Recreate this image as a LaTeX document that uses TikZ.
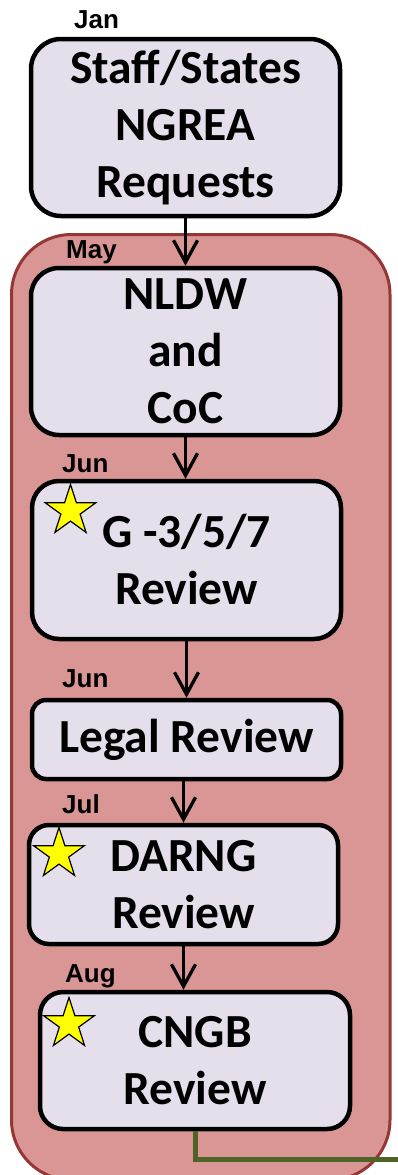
\documentclass[tikz,border=0pt]{standalone}
\usepackage{fontspec}
\setmainfont{Carlito}
\newfontfamily\lblfont{Liberation Sans}
\usetikzlibrary{arrows.meta,shapes.geometric}
\definecolor{boxfill}{HTML}{E5DFEC}
\definecolor{panelfill}{HTML}{D99694}
\definecolor{paneldraw}{HTML}{953735}
\definecolor{olivegreen}{HTML}{4F6228}
\definecolor{staryellow}{HTML}{FFFF00}
\begin{document}
\begin{tikzpicture}[x=1pt,y=-1pt,
  procbox/.style={draw=black, line width=4.5pt, fill=boxfill, align=center, inner sep=0pt,
    font=\fontsize{47.5}{57}\selectfont\bfseries, minimum width=309pt},
  month/.style={anchor=base west, inner sep=0pt, font=\lblfont\bfseries\fontsize{26}{30}\selectfont},
  flow/.style={line width=3.3pt, -{Straight Barb[length=22pt,width=24pt]}},
  starmark/.style={star, star points=5, star point ratio=2.618, minimum size=53pt, inner sep=0pt,
    fill=staryellow, draw=black, line width=1.2pt},
]
\useasboundingbox (0,0) rectangle (398,1175);
\begin{scope}
\clip (0,0) rectangle (398,1175);
\draw[fill=panelfill, draw=paneldraw, line width=3pt, rounded corners=60pt] (11.5,234.5) rectangle (390,1180);
\end{scope}

\node[procbox, minimum height=177pt, rounded corners=30pt] (req) at (185.5,127.5) {Staff/States\\NGREA\\Requests};
\node[procbox, minimum height=167pt, rounded corners=28pt] (nldw) at (185.5,351.5) {NLDW\\and\\CoC};
\node[procbox, minimum height=158pt, rounded corners=27pt] (g357) at (186.5,560) {G -3/5/7\\Review};
\node[procbox, minimum height=79pt, rounded corners=14pt] (legal) at (186.5,739.5) {Legal Review};
\node[procbox, minimum height=119pt, rounded corners=20pt] (darng) at (183.5,884.5) {DARNG\\Review};
\node[procbox, minimum height=137pt, minimum width=310pt, rounded corners=23pt] (cngb) at (195,1060.5) {CNGB\\Review};

\node[month] (jan) at (74,28) {Jan};
\node[month] (may) at (66,258) {May};
\node[month] (jun1) at (62,472) {Jun};
\node[month] (jun2) at (62,687) {Jun};
\node[month] (jul) at (62,813) {Jul};
\node[month] (aug) at (65,982) {Aug};

\draw[flow] (req.south) -- (req.south |- nldw.north);
\draw[flow] (nldw.south) -- (nldw.south |- g357.north);
\draw[flow] (g357.south) -- (g357.south |- legal.north);
\draw[flow] (darng.north |- legal.south) -- (darng.north);
\draw[flow] (darng.south) -- (darng.south |- cngb.north);

\coordinate (gend) at (400,1159);
\draw[olivegreen, line width=5pt] (cngb.south) |- (gend);

\node[starmark] (st1) at (70.5,511) {};
\node[starmark] (st2) at (59,854) {};
\node[starmark] (st3) at (69,1024) {};
\end{tikzpicture}
\end{document}
